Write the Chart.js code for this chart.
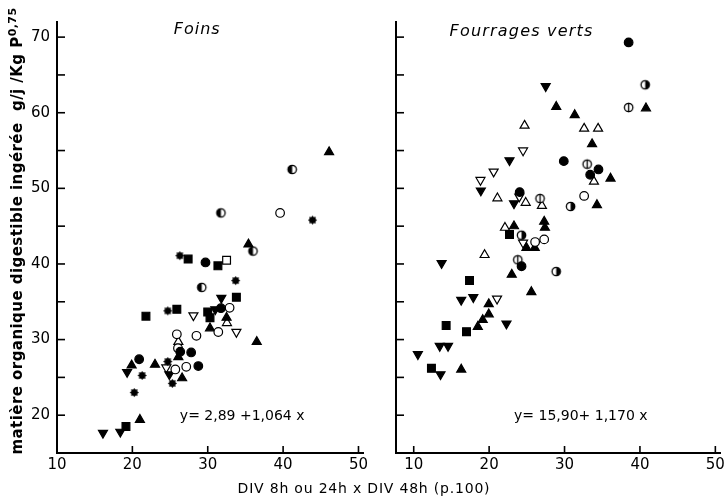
<!DOCTYPE html>
<html>
<head>
<meta charset="utf-8">
<script src="https://cdn.jsdelivr.net/npm/chart.js@4.4.1/dist/chart.umd.min.js"></script>
<style>
  body { margin: 0; background: #fff; }
  #wrap { position: relative; width: 728px; height: 502px; overflow: hidden; font-family: "DejaVu Sans", sans-serif; }
  .panel { position: absolute; top: 0; height: 502px; }
  #ytitle { position: absolute; left: -212px; top: 221px; width: 450px; height: 20px; line-height: 20px;
            text-align: center; transform: rotate(-90deg); font-size: 15px; font-weight: bold; letter-spacing: 0.45px; color: #000; white-space: nowrap; }
  #ytitle sup { font-size: 11px; }
  #xtitle { position: absolute; left: 0; width: 728px; top: 480px; text-align: center; font-size: 14px; letter-spacing: 0.8px; color: #000; }
</style>
</head>
<body>
<div id="wrap">
  <div class="panel" style="left:0; width:372px"><canvas id="foins" width="372" height="502"></canvas></div>
  <div class="panel" style="left:364px; width:364px"><canvas id="verts" width="364" height="502"></canvas></div>
  <div id="ytitle">matière organique digestible ingérée&nbsp; g/j /Kg P<sup>0,75</sup></div>
  <div id="xtitle">DIV 8h ou 24h x DIV 48h (p.100)</div>
</div>
<script>
// axes
const xTicks = [10, 20, 30, 40, 50];
const yTicks = [20, 30, 40, 50, 60, 70];

// Foins
const foinsPlein = [[29.7,40.2],[31.75,34.15],[26.35,28.4],[27.8,28.3],[20.9,27.4],[28.75,26.5]];
const foinsVide = [[39.6,46.75],[32.9,34.2],[31.4,31.0],[25.9,30.7],[28.5,30.5],[26.05,28.85],[27.15,26.4],[25.7,26.05]];
const foinsDemi = [[41.2,52.5],[31.75,46.75],[36.0,41.7],[29.2,36.9]];
const foinsEtoile = [[43.9,45.8],[26.3,41.1],[33.7,37.8],[24.7,33.8],[24.7,27.1],[21.3,25.25],[25.3,24.2],[20.25,23.0]];
const foinsCarre = [[27.4,40.65],[31.35,39.75],[33.8,35.6],[30.0,33.65],[30.3,32.9],[25.9,34.0],[21.8,33.1],[19.15,18.5]];
const foinsCarreVide = [[32.5,40.5]];
const foinsTriHaut = [[46.1,54.8],[35.4,42.6],[32.5,32.9],[30.3,31.5],[36.5,29.7],[26.1,27.7],[19.9,26.6],[23.0,26.7],[26.6,24.9],[21.0,19.4]];
const foinsTriHautVide = [[32.55,32.2],[26.1,29.7]];
const foinsTriBas = [[31.8,35.5],[31.0,34.0],[19.3,25.7],[24.9,25.4],[18.4,17.8],[16.1,17.65]];
const foinsTriBasVide = [[28.1,33.2],[33.8,31.0],[24.5,26.3]];

// Fourrages verts
const vertPlein = [[38.5,69.3],[29.9,53.6],[34.5,52.5],[33.4,51.8],[24.05,49.5],[24.3,39.7]];
const vertVide = [[32.6,49.0],[26.1,42.9],[27.3,43.25]];
const vertDemi = [[40.7,63.7],[30.8,47.6],[24.3,43.8],[28.9,39.0]];
const vertBarre = [[38.5,60.7],[33.0,53.2],[26.75,48.65],[23.8,40.55]];
const vertCarre = [[22.7,43.9],[17.4,37.8],[14.3,31.85],[17.0,31.05],[12.35,26.2]];
const vertTriHaut = [[40.8,60.6],[28.9,60.8],[31.35,59.7],[33.65,55.85],[36.1,51.3],[34.3,47.8],[27.3,45.6],[27.4,44.8],[23.3,45.0],[24.95,42.15],[26.05,42.15],[23.0,38.6],[25.6,36.3],[19.95,34.7],[19.95,33.35],[19.15,32.6],[18.5,31.7],[16.3,26.05]];
const vertTriHautVide = [[24.7,58.3],[32.6,57.9],[34.45,57.9],[33.9,50.9],[21.1,48.7],[24.85,48.1],[27.0,47.7],[22.1,44.8],[19.4,41.2]];
const vertTriBas = [[27.5,63.5],[22.7,53.7],[18.9,49.7],[23.3,48.0],[13.7,40.1],[16.3,35.25],[17.9,35.6],[22.3,32.1],[13.45,29.15],[14.55,29.15],[10.55,28.05],[13.55,25.4]];
const vertTriBasVide = [[24.5,55.0],[20.6,52.2],[18.85,51.1],[24.0,48.9],[24.5,42.8],[21.05,35.4]];

/* marker images */

function marker(kind) {
    const c = document.createElement('canvas');
    c.width = 13; c.height = 13;
    const g = c.getContext('2d');
    g.strokeStyle = '#000'; g.fillStyle = '#000'; g.lineWidth = 1.3;
    if (kind == 'etoile') {
        g.beginPath();
        for (let i = 0; i < 16; i++) {
            const a = i * Math.PI / 8;
            const r = i % 2 ? 3.2 : 4.6;
            g.lineTo(6.5 + r * Math.cos(a), 6.5 + r * Math.sin(a));
        }
        g.closePath(); g.fill();
        return c;
    }
    g.beginPath(); g.arc(6.5, 6.5, 4.2, 0, Math.PI * 2);
    g.fillStyle = '#fff'; g.fill(); g.stroke();
    g.fillStyle = '#000';
    if (kind == 'demiG') {
        g.beginPath(); g.arc(6.5, 6.5, 4.2, Math.PI / 2, Math.PI * 1.5); g.fill();
    } else if (kind == 'demiD') {
        g.beginPath(); g.arc(6.5, 6.5, 4.2, -Math.PI / 2, Math.PI / 2); g.fill();
    } else if (kind == 'barre') {
        g.beginPath(); g.moveTo(6.5, 1.8); g.lineTo(6.5, 11.2); g.stroke();
    }
    return c;
}

function serie(pts, style, filled, extra) {
    return Object.assign({
        data: pts.map(p => ({x: p[0], y: p[1]})),
        pointStyle: style,
        pointRadius: style == 'rect' ? 5.5 : (style == 'triangle' ? 5.2 : 4.3),
        backgroundColor: filled ? '#000' : '#fff',
        borderColor: '#000',
        borderWidth: 1.2
    }, extra || {});
}

// inward tick marks and texts
const decor = {
    id: 'decor',
    afterDraw(chart, args, opts) {
        const ctx = chart.ctx;
        const xs = chart.scales.x, ys = chart.scales.y;
        ctx.save();
        ctx.strokeStyle = '#000';
        ctx.lineWidth = 1.6;
        ys.ticks.forEach(t => {
            if (t.value <= ys.min) return;
            const py = ys.getPixelForValue(t.value);
            ctx.beginPath(); ctx.moveTo(xs.left, py); ctx.lineTo(xs.left + 8, py); ctx.stroke();
        });
        xs.ticks.forEach(t => {
            const px = xs.getPixelForValue(t.value);
            ctx.beginPath(); ctx.moveTo(px, ys.bottom); ctx.lineTo(px, ys.bottom - 7); ctx.stroke();
        });
        ctx.fillStyle = '#000';
        ctx.textBaseline = 'middle';
        ctx.textAlign = 'center';
        ctx.font = 'italic 16px "DejaVu Sans"';
        ctx.letterSpacing = opts.espace;
        ctx.fillText(opts.titre, xs.getPixelForValue(opts.titreX), ys.getPixelForValue(opts.titreY));
        ctx.letterSpacing = '0px';
        ctx.textAlign = 'left';
        ctx.font = '14px "DejaVu Sans"';
        ctx.fillText(opts.equation, xs.getPixelForValue(opts.eqX), ys.getPixelForValue(opts.eqY));
        ctx.restore();
    }
};

function panel(id, datasets, xmin, xmax, yWidth, showY, rightPad, deco) {
    return new Chart(document.getElementById(id), {
        type: 'scatter',
        data: { datasets: datasets },
        plugins: [decor],
        options: {
            responsive: false,
            animation: false,
            layout: { padding: { top: 22, right: rightPad, left: 0, bottom: 0 } },
            plugins: { legend: { display: false }, tooltip: { enabled: false }, decor: deco },
            scales: {
                x: {
                    type: 'linear', min: xmin, max: xmax,
                    afterFit: s => { s.height = 49; },
                    afterBuildTicks: s => { s.ticks = xTicks.map(v => ({value: v})); },
                    grid: { display: false, drawTicks: false },
                    border: { display: true, color: '#000', width: 2 },
                    ticks: { color: '#000', padding: 3, font: { family: 'DejaVu Sans', size: 15 } }
                },
                y: {
                    type: 'linear', min: 15, max: 72,
                    afterFit: s => { s.width = yWidth; s.paddingTop = 0; s.paddingBottom = 0; },
                    ticks: {
                        stepSize: 5, includeBounds: false, display: showY,
                        color: '#000', padding: 7, font: { family: 'DejaVu Sans', size: 15 },
                        callback: v => yTicks.includes(v) ? v : ''
                    },
                    grid: { display: false, drawTicks: false },
                    border: { display: true, color: '#000', width: 2 }
                }
            }
        }
    });
}

const bas = { rotation: 180 };

const foinsChart = panel('foins', [
    serie(foinsPlein, 'circle', true),
    serie(foinsVide, 'circle', false),
    serie(foinsDemi, marker('demiG'), true),
    serie(foinsEtoile, marker('etoile'), true),
    serie(foinsCarre, 'rect', true),
    serie(foinsCarreVide, 'rect', false),
    serie(foinsTriHaut, 'triangle', true),
    serie(foinsTriHautVide, 'triangle', false),
    serie(foinsTriBas, 'triangle', true, bas),
    serie(foinsTriBasVide, 'triangle', false, bas)
], 10, 50.6, 57, true, 9,
{ titre: 'Foins', titreX: 28.6, titreY: 70.9, espace: '1px', equation: 'y= 2,89 +1,064 x', eqX: 26.3, eqY: 19.9 });

const vertsChart = panel('verts', [
    serie(vertPlein, 'circle', true),
    serie(vertVide, 'circle', false),
    serie(vertDemi, marker('demiD'), true),
    serie(vertBarre, marker('barre'), false),
    serie(vertCarre, 'rect', true),
    serie(vertTriHaut, 'triangle', true),
    serie(vertTriHautVide, 'triangle', false),
    serie(vertTriBas, 'triangle', true, bas),
    serie(vertTriBasVide, 'triangle', false, bas)
], 7.65, 50.67, 32, false, 7,
{ titre: 'Fourrages verts', titreX: 24.3, titreY: 70.7, espace: '1.2px', equation: 'y= 15,90+ 1,170 x', eqX: 23.3, eqY: 19.9 });
</script>
</body>
</html>
